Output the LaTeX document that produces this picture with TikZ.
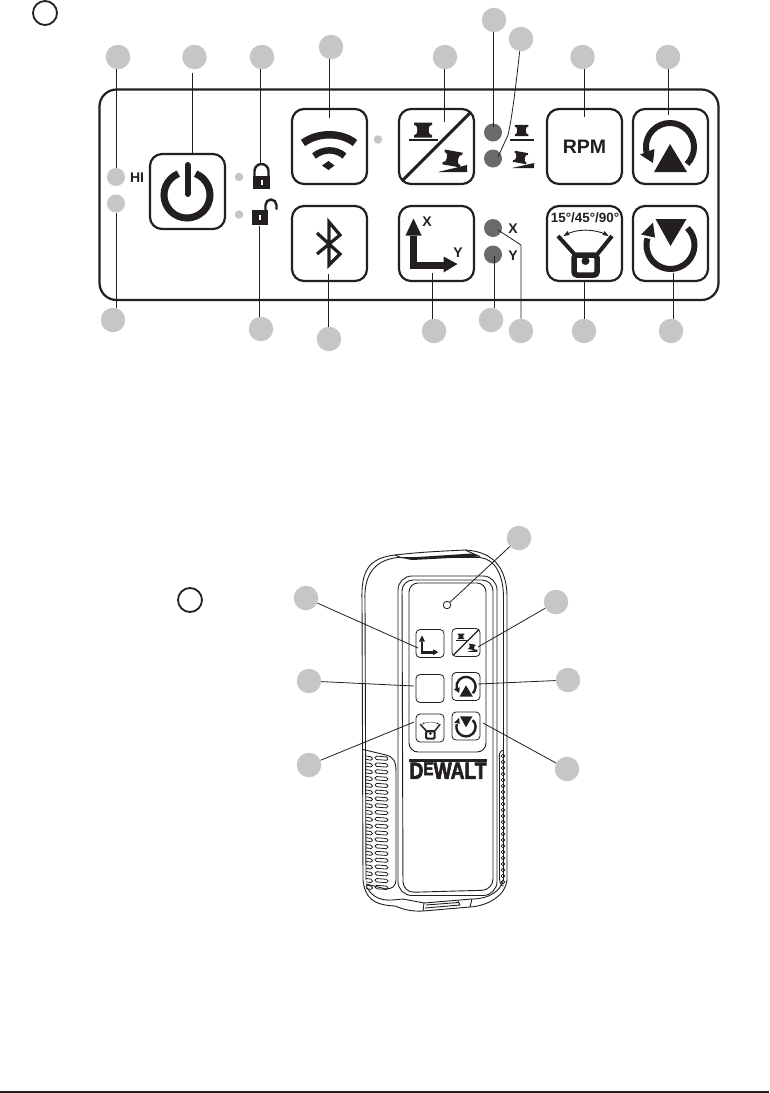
\documentclass[tikz,border=0pt]{standalone}
\usepackage{fontspec}
\setmainfont{Liberation Sans}
\newfontfamily\logofont[BoldFeatures={FakeBold=3}]{Liberation Sans}
\definecolor{cg}{HTML}{C6C6C6}
\definecolor{ink}{HTML}{231F20}
\definecolor{ledd}{HTML}{6A6A6A}
\tikzset{
  callout/.style={circle,fill=cg,minimum size=24.5pt,inner sep=0pt},
  ledbig/.style={circle,fill=cg,minimum size=18pt,inner sep=0pt},
  ledsmall/.style={circle,fill=cg,minimum size=8.5pt,inner sep=0pt},
  leddark/.style={circle,fill=ledd,minimum size=18pt,inner sep=0pt},
  ring/.style={circle,draw=ink,line width=1.8pt,minimum size=24pt,inner sep=0pt},
  bigbtn/.style={draw=ink,line width=2.2pt,rounded corners=12pt,minimum size=75pt,inner sep=0pt},
  smallbtn/.style={draw=ink,line width=.8pt,rounded corners=4pt,minimum size=28pt,inner sep=0pt},
  lead/.style={draw=ink,line width=.8pt},
  lbl/.style={inner sep=0pt,font=\bfseries\fontsize{14}{14}\selectfont,text=ink},
  devline/.style={draw=ink,line width=.9pt,line join=round},
}
\newcommand{\iconrotup}[3]{\begin{scope}[shift={(#1,#2)},scale=#3]
  \draw[ink,line width=#3*6pt] (-45:24) arc (-45:194:24);
  \fill[ink] (0,3)--(17,-25)--(-16,-25)--cycle;
  \fill[ink] (-30,-7.5)--(-17,-16)--(-15.5,-2)--cycle;
\end{scope}}
\newcommand{\iconrotdown}[3]{\begin{scope}[shift={(#1,#2)},scale=#3]
  \draw[ink,line width=#3*6pt] (0,-2) ++(45:24) arc (45:-196:24);
  \fill[ink] (-15,24)--(16,24)--(0,-3)--cycle;
  \fill[ink] (-29.5,8.5)--(-17.5,20.5)--(-15.5,5.5)--cycle;
\end{scope}}
\newcommand{\spool}[3]{\fill[ink,shift={(#1,#2)},scale=#3] (-9,7.5)--(9,7.5)--(9,5.2)--(6.6,4) .. controls (5.4,2) and (5.4,-2) .. (6.6,-4)--(9,-5.2)--(9,-7.5)--(-9,-7.5)--(-9,-5.2)--(-6.6,-4) .. controls (-5.4,-2) and (-5.4,2) .. (-6.6,4)--(-9,5.2)--cycle;}
\newcommand{\icontension}[3]{\begin{scope}[shift={(#1,#2)},scale=#3]
  \draw[ink,line width=#3*3pt] (34,34)--(-34.5,-34.5);
  \spool{-13.5}{16.5}{1}
  \draw[ink,line width=#3*1.6pt] (-27.5,6.5)--(1.5,6.5);
  \begin{scope}[shift={(16,-12)},rotate=-10]\spool{0}{0}{1}\end{scope}
  \fill[ink] (1.5,-25.5)--(30.5,-18.5)--(30.5,-25.5)--cycle;
\end{scope}}
\newcommand{\iconxy}[3]{\begin{scope}[shift={(#1,#2)},scale=#3]
  \draw[ink,line width=#3*7pt] (-23.5,8)--(-23.5,-21.5)--(8,-21.5);
  \fill[ink] (-31,8)--(-15,8)--(-23,25)--cycle;
  \fill[ink] (7,-13)--(7,-29)--(21,-20.5)--cycle;
\end{scope}}
\newcommand{\iconangle}[3]{\begin{scope}[shift={(#1,#2)},scale=#3]
  \draw[ink,line width=#3*.9pt] (-19.5,8.5) .. controls (-8,15) and (10,15) .. (22.5,8.5);
  \fill[ink] (-21,7.5)--(-15,8.5)--(-17,12.5)--cycle;
  \fill[ink] (24,7.5)--(18,8.5)--(20,12.5)--cycle;
  \draw[ink,line width=#3*4pt] (-26.5,7.5)--(-7.5,-13.5);
  \draw[ink,line width=#3*4pt] (27.5,7.5)--(10.5,-13.5);
  \draw[ink,line width=#3*5.5pt,rounded corners=#3*3pt] (-10.5,-31.5) rectangle (12.5,-11.5);
  \fill[ink] (1,-17.5) circle (4);
\end{scope}}
\begin{document}
\begin{tikzpicture}[x=1pt,y=1pt]
\useasboundingbox (0,0) rectangle (769,-1093);
\fill[white] (0,0) rectangle (769,-1093);
% --- top panel
\draw[ink,line width=2.2pt,rounded corners=17pt] (99.5,-89.5) rectangle (718.5,-300);
\node[ring] (keyA) at (45,-13) {};
\node[bigbtn] (bpower) at (187.5,-191.5) {};
\node[bigbtn] (bwifi) at (329.5,-146.5) {};
\node[bigbtn] (bblue) at (329.5,-243.5) {};
\node[bigbtn] (bten) at (436.5,-146.5) {};
\node[bigbtn] (bxy) at (436.5,-243.5) {};
\node[bigbtn] (brpm) at (584.5,-146.5) {\bfseries\fontsize{19.5}{20}\selectfont\textcolor{ink}{RPM}};
\node[bigbtn] (bup) at (670.5,-146.5) {};
\node[bigbtn] (bang) at (584.5,-243.5) {};
\node[bigbtn] (bdn) at (670.5,-243.5) {};
% power icon
\draw[ink,line width=7pt] (187,-195)++(68:23) arc (68:-248:23);
\draw[ink,line width=6pt,line cap=round] (187.5,-165)--(187.5,-194);
% wifi icon
\draw[ink,line width=7.5pt] (303,-143) .. controls (318,-132) and (341,-132) .. (355,-143);
\draw[ink,line width=6.5pt] (314,-156) .. controls (323,-148.5) and (336,-148.5) .. (344.5,-156);
\fill[ink] (322,-165.5)--(328.5,-161)--(334.5,-165.5)--(328.5,-170)--cycle;
% bluetooth icon
\draw[ink,line width=3.2pt,miter limit=6] (317,-233)--(340,-254)--(329,-265)--(329,-222)--(340,-235)--(317,-254);
% icons
\icontension{436.5}{-146.5}{1}
\iconxy{436.5}{-243.5}{1}
\iconrotup{670}{-147}{1}
\iconrotdown{670.5}{-243}{1}
\iconangle{584.5}{-243.5}{1}
\node[lbl,font=\bfseries\fontsize{13.4}{14}\selectfont] (tang) at (585,-218) {15°/45°/90°};
\node[lbl] (tx1) at (427,-222) {X};
\node[lbl] (ty1) at (458,-253) {Y};
% LEDs and labels
\node[ledbig] (ledhi) at (116,-177) {};
\node[ledbig] (ledlo) at (116,-203.5) {};
\node[lbl] (thi) at (137,-178) {HI};
\node[ledsmall] (ledl1) at (239,-177) {};
\node[ledsmall] (ledl2) at (239,-214.5) {};
\node[ledsmall] (ledw) at (378,-139.5) {};
\node[leddark] (leda) at (493,-132.5) {};
\node[leddark] (ledb) at (493,-158.5) {};
\node[leddark] (ledx) at (493,-228) {};
\node[leddark] (ledy) at (493,-254.5) {};
\node[lbl] (tx2) at (513,-228.5) {X};
\node[lbl] (ty2) at (513,-256) {Y};
% locks
\draw[ink,line width=2.4pt] (254.5,-176)--(254.5,-171) arc (180:0:7)--(268.5,-176);
\fill[ink] (253,-175.5) rectangle (270,-189);
\fill[white] (260.5,-180) rectangle (262.5,-185);
\draw[ink,line width=2.4pt] (265.5,-211)--(265.5,-205) arc (180:0:5.5)--(276.5,-209.5);
\fill[ink] (252,-210) rectangle (268,-225);
\fill[white] (259,-214.5) rectangle (261,-219.5);
% small spools
\spool{521.5}{-130.5}{.75}
\draw[ink,line width=1.5pt] (510,-140)--(534,-140);
\begin{scope}[shift={(520.5,-157.5)},rotate=-10]\spool{0}{0}{.75}\end{scope}
\fill[ink] (512,-168)--(534,-163)--(534,-168)--cycle;
% callouts
\foreach \n/\x/\y in {t1/118/57,t2/194.5/57,t3/262/57,t4/331/47,t5/445/57,t6/494/20,t7/521/39,t8/582.5/57,t9/668/57,
 u1/113/320,u2/261/329,u3/329/339,u4/434/331,u5/491/320,u6/521/331,u7/584/331,u8/671/331,
 d1/519/538,d2/306/598,d3/556/602,d4/309/681,d5/568/680,d6/309/765,d7/567/769}
  \node[callout] (\n) at (\x,-\y) {};
\node[ring] (keyB) at (190,-600) {};
% connector ends
\foreach \n/\x/\y in {p2/192/153,p3/260/164,p4/329/118,p5/444/122,p6/493/127,p8/584/117,p9/668/115,
  q1/116/208,q2/259/226,q3/328/274,q4/432/273,q5/494/256,q7/584/280,q8/673/273,
  xbend/521/245,xend/498/230,ybendA/508/135,yendA/498/157,
  e2/418/648,e3/478/647,e4/414/686,e5/478/684,e6/414/722,e7/483/723}
  \coordinate (\n) at (\x,-\y);
\draw[lead] (ledhi |- t1.south) -- (ledhi.north);
\draw[lead,shorten <=4pt] (p2 |- t2.south) -- (p2);
\draw[lead] (p3 |- t3.south) -- (p3);
\draw[lead] (p4 |- t4.south) -- (p4);
\draw[lead] (p5 |- t5.south) -- (p5);
\draw[lead] (p6 |- t6.south) -- (p6);
\draw[lead] (t7) .. controls (516,-85) and (512,-118) .. (ybendA) -- (yendA);
\draw[lead] (p8 |- t8.south) -- (p8);
\draw[lead] (p9 |- t9.south) -- (p9);
\draw[lead] (ledlo.south) -- (q1 |- u1.north);
\draw[lead] (q2) -- (q2 |- u2.north);
\draw[lead] (q3) -- (q3 |- u3.north);
\draw[lead] (q4) -- (q4 |- u4.north);
\draw[lead] (q5) -- (q5 |- u5.north);
\draw[lead] (xend) -- (xbend) -- (xbend |- u6.north);
\draw[lead] (q7) -- (q7 |- u7.north);
\draw[lead] (q8) -- (q8 |- u8.north);
% --- remote body
% outer shell
\draw[devline] (363,-880) -- (362,-600) .. controls (361,-572) and (368,-558) .. (395,-555) .. controls (420,-552) and (445,-551) .. (465,-550) .. controls (485,-551) and (506,-560) .. (507,-595) -- (507,-880);
\draw[devline] (366,-880) -- (365,-600) .. controls (364,-578) and (372,-560) .. (398,-557.5) -- (480,-557.5) .. controls (495,-559) and (504,-575) .. (503.5,-600) -- (503.5,-880);
\fill[ink] (402,-558) -- (472,-553.5) -- (480,-556.5) -- (412,-560) -- cycle;
\draw[devline] (395,-555) -- (402,-558);
\draw[devline] (465,-550) -- (480,-556.5);
% bottom
\draw[devline] (363,-880) .. controls (365,-897) and (372,-905) .. (395,-906) .. controls (405,-910) and (412,-911.5) .. (423,-911) -- (424,-903) -- (472,-899) -- (470,-907) -- (423,-911);
\draw[devline] (366,-886) .. controls (376,-904) and (390,-900) .. (403,-899) -- (424,-903);
\draw[devline] (470,-907) .. controls (488,-906) and (506,-895) .. (507,-880);
\draw[devline] (472,-899) .. controls (488,-899) and (500,-892) .. (503.5,-880);
\draw[devline] (426,-905) -- (458,-902.5);
\draw[devline] (425,-908) -- (460,-905) -- (458,-901);
% frames
\draw[devline,rounded corners=14pt] (398,-576) rectangle (497,-895.5);
\draw[devline,rounded corners=11pt] (402,-580) -- (493,-580) -- (493,-890) -- (403,-892.5) -- cycle;
\draw[devline,rounded corners=9pt] (409,-583) rectangle (486,-752);
% grips
\draw[devline] (363,-749.5) -- (386,-755) .. controls (394,-757) and (396,-762) .. (396,-772) -- (396,-880) .. controls (396,-886) and (392,-889) .. (386,-889) -- (366,-884);
\foreach \k in {0,...,19}{
  \pgfmathsetmacro{\yy}{-757-\k*6.8}
  \draw[ink,line width=.8pt,rounded corners=1.6pt] (375,\yy+1) -- (388,\yy) -- (388,\yy-3.4) -- (375,\yy-2.4) -- cycle;
  \draw[ink,line width=.8pt,rounded corners=1.6pt] (366,\yy+1) -- (372.5,\yy) -- (372.5,\yy-3.4) -- (366,\yy-2.4);
}
\draw[devline] (503.5,-750) .. controls (499,-751) and (499,-755) .. (499.5,-760) -- (499.5,-878) .. controls (499.5,-884) and (502,-886) .. (503.5,-886);
\foreach \k in {0,...,21}{
  \pgfmathsetmacro{\yy}{-756-\k*6}
  \draw[ink,line width=.7pt] (503,\yy) circle (1.8);
}
% logo
\fill[ink] (409,-759) rectangle (487,-762);
\node[inner sep=0pt,text=ink] (logo) at (448,-770.5) {\resizebox{77pt}{16.5pt}{\logofont\bfseries D\raisebox{.3ex}{\fontsize{8}{8}\selectfont E}WALT}};
% remote buttons
\node[smallbtn] (sxy) at (430,-643.5) {};
\node[smallbtn] (sten) at (466,-642.5) {};
\node[smallbtn] (sblank) at (430,-688.5) {};
\node[smallbtn] (sup) at (466,-686.5) {};
\node[smallbtn] (sang) at (430,-728) {};
\node[smallbtn] (sdn) at (466,-726) {};
\node[circle,draw=ink,line width=.8pt,fill=white,minimum size=7.5pt,inner sep=0pt] (sled) at (447,-605) {};
\iconxy{430.5}{-644.5}{.37}
\icontension{466}{-642.5}{.37}
\iconrotup{466}{-686.5}{.4}
\iconrotdown{466}{-726}{.4}
\iconangle{430}{-727}{.37}
% remote leads
\draw[lead] (d1) -- (sled);
\draw[lead] (d2) -- (e2);
\draw[lead] (d3) -- (e3);
\draw[lead] (d4) -- (e4);
\draw[lead] (d5) -- (e5);
\draw[lead] (d6) -- (e6);
\draw[lead] (d7) -- (e7);
% foot rule
\draw[ink,line width=1.2pt] (0,-1092) -- (769,-1092);
\end{tikzpicture}
\end{document}
